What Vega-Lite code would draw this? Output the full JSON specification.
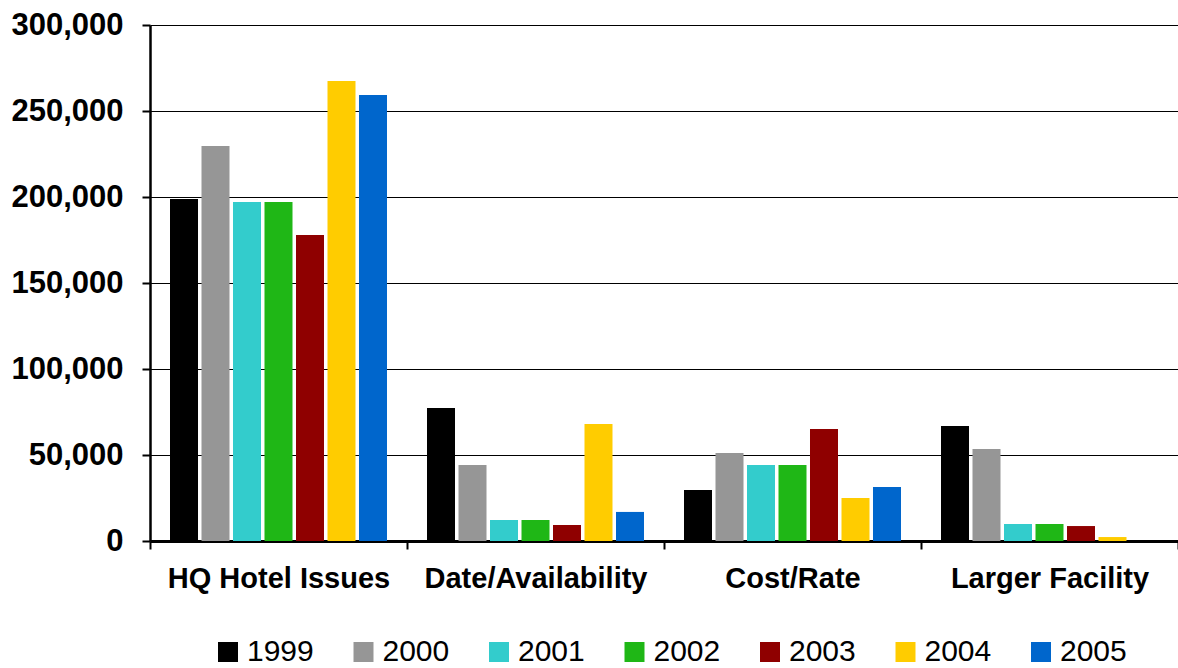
{
  "$schema": "https://vega.github.io/schema/vega-lite/v6.json",
  "width": 1028,
  "height": 516,
  "autosize": {"type": "none"},
  "padding": {"left": 150, "top": 25, "right": 0, "bottom": 127},
  "background": "white",
  "data": {
    "values": [
      {"category": "HQ Hotel Issues", "year": "1999", "value": 198800},
      {"category": "HQ Hotel Issues", "year": "2000", "value": 229700},
      {"category": "HQ Hotel Issues", "year": "2001", "value": 197100},
      {"category": "HQ Hotel Issues", "year": "2002", "value": 197100},
      {"category": "HQ Hotel Issues", "year": "2003", "value": 177900},
      {"category": "HQ Hotel Issues", "year": "2004", "value": 267400},
      {"category": "HQ Hotel Issues", "year": "2005", "value": 259300},
      {"category": "Date/Availability", "year": "1999", "value": 77300},
      {"category": "Date/Availability", "year": "2000", "value": 44200},
      {"category": "Date/Availability", "year": "2001", "value": 12200},
      {"category": "Date/Availability", "year": "2002", "value": 12200},
      {"category": "Date/Availability", "year": "2003", "value": 9300},
      {"category": "Date/Availability", "year": "2004", "value": 68000},
      {"category": "Date/Availability", "year": "2005", "value": 16900},
      {"category": "Cost/Rate", "year": "1999", "value": 29700},
      {"category": "Cost/Rate", "year": "2000", "value": 51200},
      {"category": "Cost/Rate", "year": "2001", "value": 44200},
      {"category": "Cost/Rate", "year": "2002", "value": 44200},
      {"category": "Cost/Rate", "year": "2003", "value": 65100},
      {"category": "Cost/Rate", "year": "2004", "value": 25000},
      {"category": "Cost/Rate", "year": "2005", "value": 31400},
      {"category": "Larger Facility", "year": "1999", "value": 66900},
      {"category": "Larger Facility", "year": "2000", "value": 53500},
      {"category": "Larger Facility", "year": "2001", "value": 9900},
      {"category": "Larger Facility", "year": "2002", "value": 9900},
      {"category": "Larger Facility", "year": "2003", "value": 8700},
      {"category": "Larger Facility", "year": "2004", "value": 2300},
      {"category": "Larger Facility", "year": "2005", "value": 0}
    ]
  },
  "mark": {"type": "bar"},
  "encoding": {
    "x": {
      "field": "category",
      "type": "nominal",
      "sort": ["HQ Hotel Issues", "Date/Availability", "Cost/Rate", "Larger Facility"],
      "scale": {"paddingInner": 0, "paddingOuter": 0},
      "axis": {
        "title": null,
        "labelAngle": 0,
        "labelLimit": 0,
        "labelFont": "Liberation Sans",
        "labelFontSize": 29,
        "labelFontWeight": "bold",
        "labelColor": "black",
        "labelPadding": 15,
        "tickBand": "extent",
        "tickSize": 8,
        "tickWidth": 2,
        "tickColor": "black",
        "domainColor": "black",
        "domainWidth": 3,
        "grid": false
      }
    },
    "xOffset": {
      "field": "year",
      "type": "nominal",
      "scale": {"paddingInner": 0.111, "paddingOuter": 0.635}
    },
    "y": {
      "field": "value",
      "type": "quantitative",
      "scale": {"domain": [0, 300000], "nice": false},
      "axis": {
        "title": null,
        "values": [0, 50000, 100000, 150000, 200000, 250000, 300000],
        "format": ",d",
        "labelFont": "Liberation Sans",
        "labelFontSize": 31,
        "labelFontWeight": "bold",
        "labelColor": "black",
        "labelPadding": 19,
        "labelLimit": 0,
        "tickSize": 8,
        "tickWidth": 2,
        "tickColor": "black",
        "domainColor": "black",
        "domainWidth": 2.5,
        "grid": true,
        "gridColor": "black",
        "gridWidth": 1,
        "gridOpacity": 1
      }
    },
    "color": {
      "field": "year",
      "type": "nominal",
      "scale": {
        "domain": ["1999", "2000", "2001", "2002", "2003", "2004", "2005"],
        "range": ["#000000", "#969696", "#33CCCC", "#1FB716", "#8F0000", "#FFCC00", "#0066CC"]
      },
      "legend": {
        "title": null,
        "orient": "none",
        "legendX": 63,
        "legendY": 612,
        "direction": "horizontal",
        "columns": 7,
        "padding": 0,
        "symbolType": "square",
        "symbolSize": 400,
        "symbolStrokeWidth": 0,
        "symbolOpacity": 1,
        "labelFont": "Liberation Sans",
        "labelFontSize": 30,
        "labelColor": "black",
        "labelOffset": 4,
        "columnPadding": 34.5
      }
    }
  },
  "config": {"view": {"stroke": null}}
}
